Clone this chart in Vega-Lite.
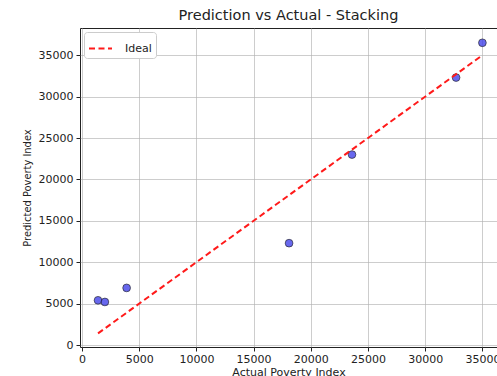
{
  "$schema": "https://vega.github.io/schema/vega-lite/v6.json",
  "autosize": "none",
  "width": 417,
  "height": 319,
  "padding": {"left": 80, "top": 28, "right": 0, "bottom": 29},
  "background": "white",
  "title": {"text": "Prediction vs Actual - Stacking", "font": "DejaVu Sans", "fontSize": 14.5, "fontWeight": "normal", "color": "#222", "offset": 5},
  "config": {
    "view": {"stroke": "#222", "strokeWidth": 1},
    "axis": {
      "labelFont": "DejaVu Sans", "labelFontSize": 11, "labelColor": "#222",
      "titleFont": "DejaVu Sans", "titleFontSize": 11, "titleFontWeight": "normal", "titleColor": "#222",
      "gridColor": "#b0b0b0", "gridWidth": 0.8, "gridOpacity": 0.8,
      "tickColor": "#222", "tickSize": 4, "domain": false
    }
  },
  "datasets": {
    "points": [
      {"actual": 1400, "predicted": 5400},
      {"actual": 2000, "predicted": 5200},
      {"actual": 3900, "predicted": 6900},
      {"actual": 18100, "predicted": 12300},
      {"actual": 23600, "predicted": 23000},
      {"actual": 32700, "predicted": 32300},
      {"actual": 35000, "predicted": 36500}
    ],
    "ideal": [
      {"actual": 1400, "predicted": 1400, "series": "Ideal"},
      {"actual": 35000, "predicted": 35000, "series": "Ideal"}
    ]
  },
  "layer": [
    {
      "data": {"name": "points"},
      "mark": {"type": "point", "filled": true, "size": 60, "fill": "#3535e8", "fillOpacity": 0.75, "stroke": "#222", "strokeWidth": 0.8, "strokeOpacity": 0.8},
      "encoding": {
        "x": {"field": "actual", "type": "quantitative", "scale": {"domain": [-175, 36276], "nice": false, "zero": false}, "axis": {"values": [0, 5000, 10000, 15000, 20000, 25000, 30000, 35000], "title": "Actual Poverty Index", "titlePadding": 2, "labelPadding": 2, "format": "d"}},
        "y": {"field": "predicted", "type": "quantitative", "scale": {"domain": [-240, 38285], "nice": false, "zero": false}, "axis": {"values": [0, 5000, 10000, 15000, 20000, 25000, 30000, 35000], "title": "Predicted Poverty Index", "titleFont": "DejaVu Sans Condensed", "titleFontSize": 11, "titlePadding": 6, "labelPadding": 3, "format": "d"}}
      }
    },
    {
      "data": {"name": "ideal"},
      "mark": {"type": "line", "strokeDash": [6, 3.5], "strokeWidth": 2},
      "encoding": {
        "x": {"field": "actual", "type": "quantitative"},
        "y": {"field": "predicted", "type": "quantitative"},
        "color": {"field": "series", "type": "nominal", "scale": {"range": ["#ff1a1a"]},
          "legend": {"title": null, "orient": "top-left", "offset": 4, "symbolType": "M-1,0H1", "symbolStrokeWidth": 2, "symbolDash": [6, 3.5], "symbolSize": 529, "labelFont": "DejaVu Sans", "labelFontSize": 11, "labelColor": "#222", "labelOffset": 12, "strokeColor": "#cccccc", "fillColor": "white", "padding": 4, "cornerRadius": 3}}
      }
    }
  ]
}
